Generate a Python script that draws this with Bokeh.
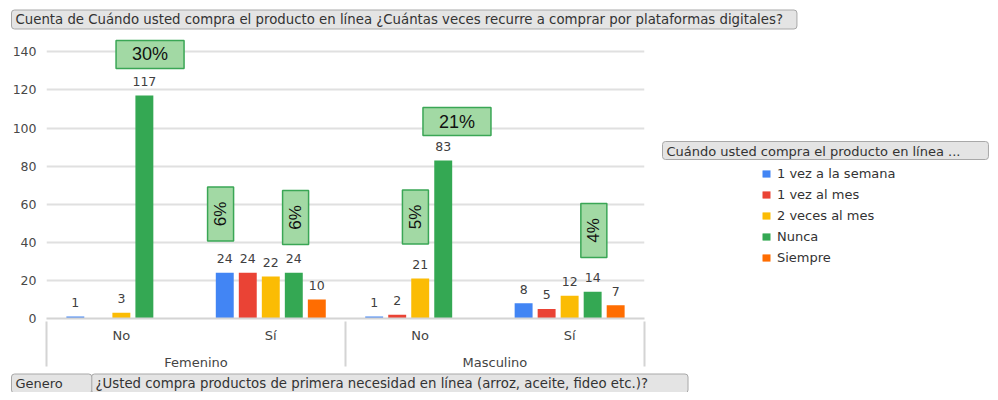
import math
from bokeh.plotting import figure
from bokeh.models import (FactorRange, Range1d, Label, FixedTicker, ColumnDataSource,
                          Legend, LegendItem)
from bokeh.transform import dodge
from bokeh.core.properties import value
from bokeh.embed import file_html
from bokeh.resources import INLINE

# ---------------- data ----------------
genders = ["Femenino", "Masculino"]
answers = ["No", "Sí"]
series_names = ["1 vez a la semana", "1 vez al mes", "2 veces al mes", "Nunca", "Siempre"]
v_semana = [1, 24, 1, 8]
v_mes = [0, 24, 2, 5]
v_2mes = [3, 22, 21, 12]
v_nunca = [117, 24, 83, 14]
v_siempre = [0, 10, 0, 7]
y_ticks = [0, 20, 40, 60, 80, 100, 120, 140]

pct_text = ["30%", "6%", "6%", "5%", "21%", "4%"]
pct_group = [("Femenino", "No"), ("Femenino", "Sí"), ("Femenino", "Sí"),
             ("Masculino", "No"), ("Masculino", "No"), ("Masculino", "Sí")]
pct_y = [138.6, 54.9, 53.0, 53.3, 103.4, 46.2]

title_text = "Cuenta de Cuándo usted compra el producto en línea ¿Cuántas veces recurre a comprar por plataformas digitales?"
legend_title = "Cuándo usted compra el producto en línea ..."
field1 = "Genero"
field2 = "¿Usted compra productos de primera necesidad en línea (arroz, aceite, fideo etc.)?"

# ---------------- styles ----------------
colors = ["#4285f4", "#ea4335", "#fbbc04", "#34a853", "#ff6d01"]
offsets = [-0.308, -0.154, 0.0, 0.154, 0.308]
pct_dx = [0.192, -0.336, 0.166, -0.032, 0.246, 0.162]
pct_vertical = [False, True, True, True, False, True]
CH = "DejaVu Sans"
BTN = "DejaVu Sans"

factors = [(g, a) for g in genders for a in answers]
# invisible edge groups: only their separators (the box edges of the axis) are shown
all_factors = [(" ", " ")] + factors + [("  ", " ")]
series_vals = [v_semana, v_mes, v_2mes, v_nunca, v_siempre]

PAD = 0.999
xr = FactorRange(*all_factors, range_padding=-PAD / 3, range_padding_units="percent",
                 group_padding=0, factor_padding=0, subgroup_padding=0)
FW = 598
UX = FW / (len(factors) + 2 - 2 * PAD)   # px per category unit
FH = 280
UY = 1.905
YMAX = FH / UY

def sx2d(sx):
    return PAD + (sx - 47) / UX

def sy2d(sy):
    return (318 - sy) / UY

p = figure(x_range=xr, y_range=Range1d(0, YMAX),
           frame_width=FW, frame_height=FH,
           min_border_left=46, min_border_right=338, min_border_top=38, min_border_bottom=74,
           output_backend="svg", toolbar_location=None, title=None)
p.outline_line_color = None

items = []
for name, vals, col, off in zip(series_names, series_vals, colors, offsets):
    src = ColumnDataSource(dict(x=factors, top=vals))
    r = p.vbar(x=dodge("x", off, range=p.x_range), top="top", width=0.12, source=src,
               fill_color=col, line_color=None)
    items.append(LegendItem(label=name, renderers=[r]))
    nz = [(f, v) for f, v in zip(factors, vals) if v != 0]
    lsrc = ColumnDataSource(dict(x=[f for f, _ in nz], top=[v for _, v in nz],
                                 label=[str(v) for _, v in nz]))
    p.text(x=dodge("x", off, range=p.x_range), y="top", text="label", source=lsrc,
           text_align="center", text_baseline="alphabetic", y_offset=-14,
           text_font=value(CH), text_font_size="12.5px", text_color="#404040")

# percentage callouts
px, pw, ph, pa, pfs = [], [], [], [], []
for g, dx, vert in zip(pct_group, pct_dx, pct_vertical):
    px.append(all_factors.index(g) + 0.5 + dx)
    pw.append(26 if vert else 68)
    ph.append(54 if vert else 28)
    pa.append(math.pi / 2 if vert else 0.0)
    pfs.append("17px" if vert else "18px")
psrc = ColumnDataSource(dict(x=px, y=pct_y, w=pw, h=ph, a=pa, t=pct_text, fs=pfs))
p.rect(x="x", y="y", width="w", height="h", width_units="screen", height_units="screen",
       source=psrc, fill_color="#a2d9a4", line_color="#3aa655", line_width=1.5)
p.text(x="x", y="y", text="t", angle="a", source=psrc, text_align="center",
       text_baseline="middle", text_font=value("Liberation Sans"), text_font_size="fs",
       text_color="#111111")

# axes
p.yaxis.ticker = FixedTicker(ticks=y_ticks)
p.yaxis.axis_line_color = None
p.yaxis.major_tick_line_color = None
p.yaxis.minor_tick_line_color = None
p.yaxis.major_tick_out = 0
p.yaxis.major_label_standoff = 10
p.yaxis.major_label_text_font = CH
p.yaxis.major_label_text_font_size = "12.5px"
p.yaxis.major_label_text_color = "#484848"
p.ygrid.ticker = FixedTicker(ticks=y_ticks)
p.ygrid.grid_line_color = "#e0e0e0"
p.ygrid.grid_line_width = 2
p.xgrid.visible = False

p.xaxis.axis_line_color = "#d4d4d4"
p.xaxis.axis_line_width = 2
p.xaxis.major_tick_line_color = None
p.xaxis.minor_tick_line_color = None
p.xaxis.major_tick_out = 0
p.xaxis.major_tick_in = 0
p.xaxis.major_label_standoff = 9
p.xaxis.major_label_text_font = CH
p.xaxis.major_label_text_font_size = "13px"
p.xaxis.major_label_text_color = "#444444"
p.xaxis.group_text_font = CH
p.xaxis.group_text_font_size = "13px"
p.xaxis.group_text_color = "#444444"
p.xaxis.group_text_font_style = "normal"
p.xaxis.separator_line_color = "#d4d4d4"
p.xaxis.separator_line_width = 2

# legend (right panel)
lg = Legend(items=items, location=(117, 52))
lg.background_fill_alpha = 0
lg.border_line_alpha = 0
lg.glyph_width = 10
lg.glyph_height = 9
lg.label_height = 17
lg.spacing = 4
lg.padding = 0
lg.margin = 0
lg.label_standoff = 6
lg.label_text_font = CH
lg.label_text_font_size = "13px"
lg.label_text_color = "#333333"
p.add_layout(lg, "right")

def button(text, sx, sy, right_pad, size="13px", top=2, bottom=2):
    return Label(x=sx2d(sx), y=sy2d(sy), text=text,
                 text_font=BTN, text_font_size=size, text_color="#333333",
                 text_baseline="middle",
                 background_fill_color="#e4e4e4", border_line_color="#a8a8a8",
                 border_radius=3, padding=dict(left=4, right=right_pad, top=top, bottom=bottom))

p.add_layout(button(title_text, 12, 19, 14, size="13.3px"), "above")
p.add_layout(button(legend_title, 663, 150, 28, top=2, bottom=1), "above")
p.add_layout(button(field1, 12, 383, 29), "right")
p.add_layout(button(field2, 92, 383, 40, size="13.3px"), "below")

open("out.html", "w").write(file_html(p, INLINE))
